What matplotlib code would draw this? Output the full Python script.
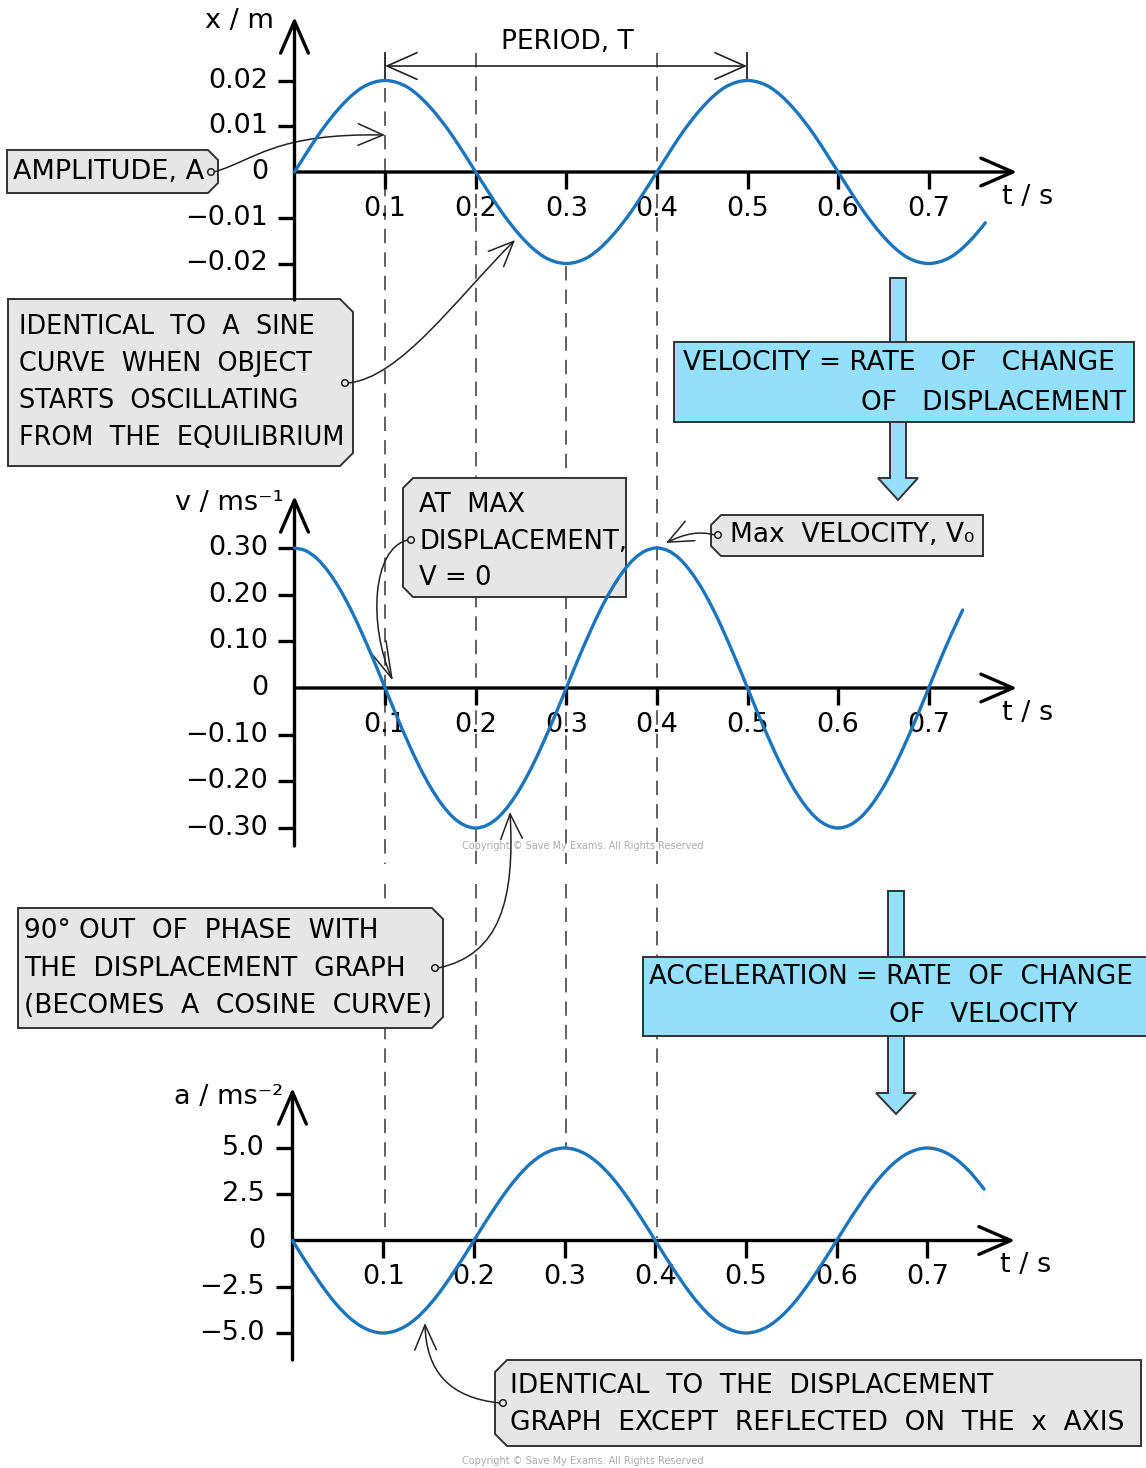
import numpy as np
import matplotlib
matplotlib.use("Agg")
import matplotlib.pyplot as plt
from matplotlib.patches import Polygon, Rectangle, Circle, FancyArrowPatch, PathPatch
from matplotlib.path import Path

plt.rcParams['font.family'] = ['DejaVu Sans']

# ---------------- data ----------------
dt = 0.0125  # sampling step of the readings (s)
displacement = [0, 0.0039, 0.0077, 0.0111, 0.0141, 0.0166, 0.0185, 0.0196, 0.0200, 0.0196, 0.0185, 0.0166, 0.0141, 0.0111, 0.0077, 0.0039,
                0, -0.0039, -0.0077, -0.0111, -0.0141, -0.0166, -0.0185, -0.0196, -0.0200, -0.0196, -0.0185, -0.0166, -0.0141, -0.0111, -0.0077, -0.0039,
                0, 0.0039, 0.0077, 0.0111, 0.0141, 0.0166, 0.0185, 0.0196, 0.0200, 0.0196, 0.0185, 0.0166, 0.0141, 0.0111, 0.0077, 0.0039,
                0, -0.0039, -0.0077, -0.0111, -0.0141, -0.0166, -0.0185, -0.0196, -0.0200, -0.0196, -0.0185, -0.0166, -0.0141, -0.0111]
velocity = [0.300, 0.294, 0.277, 0.249, 0.212, 0.167, 0.115, 0.059, 0, -0.059, -0.115, -0.167, -0.212, -0.249, -0.277, -0.294, -0.300,
            -0.294, -0.277, -0.249, -0.212, -0.167, -0.115, -0.059, 0, 0.059, 0.115, 0.167, 0.212, 0.249, 0.277, 0.294,
            0.300, 0.294, 0.277, 0.249, 0.212, 0.167, 0.115, 0.059, 0, -0.059, -0.115, -0.167, -0.212, -0.249, -0.277, -0.294, -0.300,
            -0.294, -0.277, -0.249, -0.212, -0.167, -0.115, -0.059, 0, 0.059, 0.115, 0.167]
acceleration = [0, -0.98, -1.91, -2.78, -3.54, -4.16, -4.62, -4.90, -5.00, -4.90, -4.62, -4.16, -3.54, -2.78, -1.91, -0.98,
                0, 0.98, 1.91, 2.78, 3.54, 4.16, 4.62, 4.90, 5.00, 4.90, 4.62, 4.16, 3.54, 2.78, 1.91, 0.98,
                0, -0.98, -1.91, -2.78, -3.54, -4.16, -4.62, -4.90, -5.00, -4.90, -4.62, -4.16, -3.54, -2.78, -1.91, -0.98,
                0, 0.98, 1.91, 2.78, 3.54, 4.16, 4.62, 4.90, 5.00, 4.90, 4.62, 4.16, 3.54, 2.78]

t_ticks = [0.1, 0.2, 0.3, 0.4, 0.5, 0.6, 0.7]
t_tick_labels = ["0.1", "0.2", "0.3", "0.4", "0.5", "0.6", "0.7"]
x_ticks = [0.02, 0.01, 0, -0.01, -0.02]
x_tick_labels = ["0.02", "0.01", "0", "\u22120.01", "\u22120.02"]
v_ticks = [0.30, 0.20, 0.10, 0, -0.10, -0.20, -0.30]
v_tick_labels = ["0.30", "0.20", "0.10", "0", "\u22120.10", "\u22120.20", "\u22120.30"]
a_ticks = [5.0, 2.5, 0, -2.5, -5.0]
a_tick_labels = ["5.0", "2.5", "0", "\u22122.5", "\u22125.0"]
marked_times = [0.1, 0.2, 0.3, 0.4]

# ---------------- styling ----------------
W, H = 1146, 1468
BLUE = '#1b75bc'
CYAN = '#93dffc'
GREY = '#e6e6e6'
EDGE = '#333333'
FS = 19.5   # tick labels
BFS = 19    # box text

fig = plt.figure(figsize=(W / 100, H / 100), dpi=100)
ov = fig.add_axes([0, 0, 1, 1])
ov.set_xlim(0, W)
ov.set_ylim(H, 0)
ov.axis('off')

P1 = dict(t0=294.5, ppt=906.0, y0=172.0, ppy=4575.0, bot=300, top=17, right=1017, lblx=268, tly=209)
P2 = dict(t0=294.5, ppt=906.0, y0=688.0, ppy=466.7, bot=846, top=496, right=1017, lblx=268, tly=725)
P3 = dict(t0=292.5, ppt=907.0, y0=1240.5, ppy=18.5, bot=1360, top=1088, right=1015, lblx=265, tly=1277)


def smooth_path(x, y):
    """Catmull-Rom spline through the read points, as cubic Bezier segments."""
    pts = np.column_stack([x, y])
    n = len(pts)
    verts = [pts[0]]
    codes = [Path.MOVETO]
    for i in range(n - 1):
        p0 = pts[max(i - 1, 0)]
        p1 = pts[i]
        p2 = pts[i + 1]
        p3 = pts[min(i + 2, n - 1)]
        c1 = p1 + (p2 - p0) / 6.0
        c2 = p2 - (p3 - p1) / 6.0
        verts += [c1, c2, p2]
        codes += [Path.CURVE4] * 3
    return Path(verts, codes)


def make_panel(P, yvals, ticks, labels, ylabel, ylabel_xy, tslabel_xy):
    ax = fig.add_axes([0, 0, 1, 1])
    ax.patch.set_alpha(0)
    ax.set_xlim((0 - P['t0']) / P['ppt'], (W - P['t0']) / P['ppt'])
    ax.set_ylim((P['y0'] - H) / P['ppy'], (P['y0'] - 0) / P['ppy'])
    ax.axis('off')
    xd = lambda px: (px - P['t0']) / P['ppt']
    yd = lambda py: (P['y0'] - py) / P['ppy']
    ap = dict(arrowstyle='->,head_length=2.3,head_width=1.0', lw=2.4, color='black',
              shrinkA=0, shrinkB=0, mutation_scale=10)
    ax.annotate('', xy=(0, yd(P['top'])), xytext=(0, yd(P['bot'])), arrowprops=ap)
    ax.annotate('', xy=(xd(P['right']), 0), xytext=(0, 0), arrowprops=ap)
    for v, lab in zip(ticks, labels):
        if v != 0:
            ax.plot([xd(P['t0'] - 17), 0], [v, v], color='black', lw=2.4, solid_capstyle='butt')
        ax.text(xd(P['lblx']), v, lab, ha='right', va='center', fontsize=FS)
    for tv, lab in zip(t_ticks, t_tick_labels):
        ax.plot([tv, tv], [0, yd(P['y0'] + 17)], color='black', lw=2.4, solid_capstyle='butt')
        ax.text(tv, yd(P['tly']), lab, ha='center', va='center', fontsize=FS)
    t = np.arange(len(yvals)) * dt
    ax.add_patch(PathPatch(smooth_path(t, np.asarray(yvals, float)), fc='none', ec=BLUE, lw=2.4,
                           capstyle='round', zorder=5))
    ax.text(xd(ylabel_xy[0]), yd(ylabel_xy[1]), ylabel, ha='center', va='center', fontsize=FS)
    ax.text(xd(tslabel_xy[0]), yd(tslabel_xy[1]), 't / s', ha='center', va='center', fontsize=FS)
    return ax


# ---------------- dashed guide lines (behind boxes) ----------------
for tv in marked_times:
    xp = P1['t0'] + tv * P1['ppt']
    top = {0.1: 88, 0.2: 53, 0.3: 266, 0.4: 53}[tv]
    bot = {0.1: 1232, 0.2: 1238, 0.3: 1148, 0.4: 1238}[tv]
    for a, b in [(top, 864), (884, bot)]:
        ov.plot([xp, xp], [a, b], color='#555555', lw=1.3, dashes=(8, 5), zorder=1)


# ---------------- boxes ----------------
def chamfer_box(x0, y0, x1, y1, corners, c=12, fc=GREY):
    pts = []
    pts += [(x0, y0 + c), (x0 + c, y0)] if 'tl' in corners else [(x0, y0)]
    pts += [(x1 - c, y0), (x1, y0 + c)] if 'tr' in corners else [(x1, y0)]
    pts += [(x1, y1 - c), (x1 - c, y1)] if 'br' in corners else [(x1, y1)]
    pts += [(x0 + c, y1), (x0, y1 - c)] if 'bl' in corners else [(x0, y1)]
    ov.add_patch(Polygon(pts, closed=True, fc=fc, ec=EDGE, lw=1.4, zorder=3))


def txt(x, y, s, ha='left', fs=BFS):
    ov.text(x, y, s, ha=ha, va='center', fontsize=fs, zorder=4)


def dot(x, y):
    ov.add_patch(Circle((x, y), 3.3, fc=GREY, ec='#222222', lw=1.1, zorder=7))


def connector(pts, hl=1.5, hw=0.65):
    path = Path(pts, [Path.MOVETO, Path.CURVE4, Path.CURVE4, Path.CURVE4])
    p = FancyArrowPatch(path=path, arrowstyle=f'->,head_length={hl},head_width={hw}',
                        mutation_scale=12, lw=1.1, color='#222222', zorder=6,
                        shrinkA=0, shrinkB=0)
    ov.add_patch(p)


def cyan_arrow(x0, x1, ytop, yhead, ytip):
    xm = (x0 + x1) / 2
    pts = [(x0, ytop), (x1, ytop), (x1, yhead), (x1 + 12, yhead), (xm, ytip), (x0 - 12, yhead), (x0, yhead)]
    ov.add_patch(Polygon(pts, closed=True, fc=CYAN, ec=EDGE, lw=1.4, zorder=2))


cyan_arrow(890, 906, 278, 478, 500)
cyan_arrow(888, 904, 891, 1093, 1114)

# amplitude
chamfer_box(7, 150, 218, 193, {'tr', 'br'}, c=10)
txt(13, 172, "AMPLITUDE, A", fs=19.5)
connector([(214, 172), (255, 160), (275, 133), (385, 135)])
dot(211, 172)

# sine box
chamfer_box(8, 299, 353, 466, {'tr', 'br'}, c=13)
for yy, s in zip([327, 364, 401, 438], ["IDENTICAL  TO  A  SINE", "CURVE  WHEN  OBJECT",
                                         "STARTS  OSCILLATING", "FROM  THE  EQUILIBRIUM"]):
    txt(19, yy, s, fs=18.4)
connector([(348, 383), (400, 378), (455, 300), (515, 240)])
dot(345, 383)

# velocity cyan box
ov.add_patch(Rectangle((674, 342), 460, 80, fc=CYAN, ec=EDGE, lw=1.4, zorder=3))
txt(683, 363, "VELOCITY = RATE   OF   CHANGE")
txt(1126, 403, "OF   DISPLACEMENT", ha='right')

# at max box
chamfer_box(403, 478, 626, 597, {'tl', 'bl'}, c=10)
for yy, s in zip([505, 542, 578], ["AT  MAX", "DISPLACEMENT,", "V = 0"]):
    txt(419, yy, s, fs=18.6)
connector([(408, 540), (372, 548), (368, 625), (393, 681)], hl=2.2, hw=0.6)
dot(411, 540)

# max velocity box
chamfer_box(711, 515, 983, 556, {'tl', 'bl'}, c=10)
txt(730, 535, "Max  VELOCITY, V\u2080")
connector([(715, 535), (700, 531), (686, 533), (666, 543)])
dot(718, 535)

# 90 degree box
chamfer_box(18, 908, 443, 1028, {'tr', 'br'}, c=11)
for yy, s in zip([931, 969, 1006], ["90\u00b0 OUT  OF  PHASE  WITH", "THE  DISPLACEMENT  GRAPH",
                                     "(BECOMES  A  COSINE  CURVE)"]):
    txt(24, yy, s)
connector([(438, 968), (500, 955), (515, 900), (510, 812)])
dot(435, 968)

# acceleration cyan box
ov.add_patch(Rectangle((643, 957), 520, 79, fc=CYAN, ec=EDGE, lw=1.4, zorder=3))
txt(649, 977, "ACCELERATION = RATE  OF  CHANGE", fs=18.8)
txt(889, 1015, "OF   VELOCITY")

# identical reflected box
chamfer_box(495, 1360, 1141, 1446, {'tl', 'bl'}, c=12)
txt(510, 1386, "IDENTICAL  TO  THE  DISPLACEMENT")
txt(510, 1423, "GRAPH  EXCEPT  REFLECTED  ON  THE  x  AXIS")
connector([(500, 1403), (450, 1398), (426, 1372), (425, 1323)])
dot(503, 1403)

# period marker
ov.annotate('', xy=(385, 66), xytext=(747, 66),
            arrowprops=dict(arrowstyle='<->,head_length=1.8,head_width=0.8', lw=1.2, color='#222222',
                            shrinkA=0, shrinkB=0, mutation_scale=12))
ov.plot([385, 385], [53, 80], color='#222222', lw=1.3)
ov.plot([747, 747], [53, 80], color='#222222', lw=1.3)
txt(567, 42, "PERIOD, T", ha='center')

# copyright
for yy in (846, 1461):
    ov.text(583, yy, "Copyright \u00a9 Save My Exams. All Rights Reserved", ha='center', va='center',
            fontsize=7, color='#aaaaaa', zorder=4)

# ---------------- panels ----------------
make_panel(P1, displacement, x_ticks, x_tick_labels, "x / m", (239, 21), (1028, 197))
make_panel(P2, velocity, v_ticks, v_tick_labels, "v / ms\u207b\u00b9", (229, 503), (1028, 713))
make_panel(P3, acceleration, a_ticks, a_tick_labels, "a / ms\u207b\u00b2", (229, 1097), (1026, 1265))

fig.savefig("out.png", dpi=100)
